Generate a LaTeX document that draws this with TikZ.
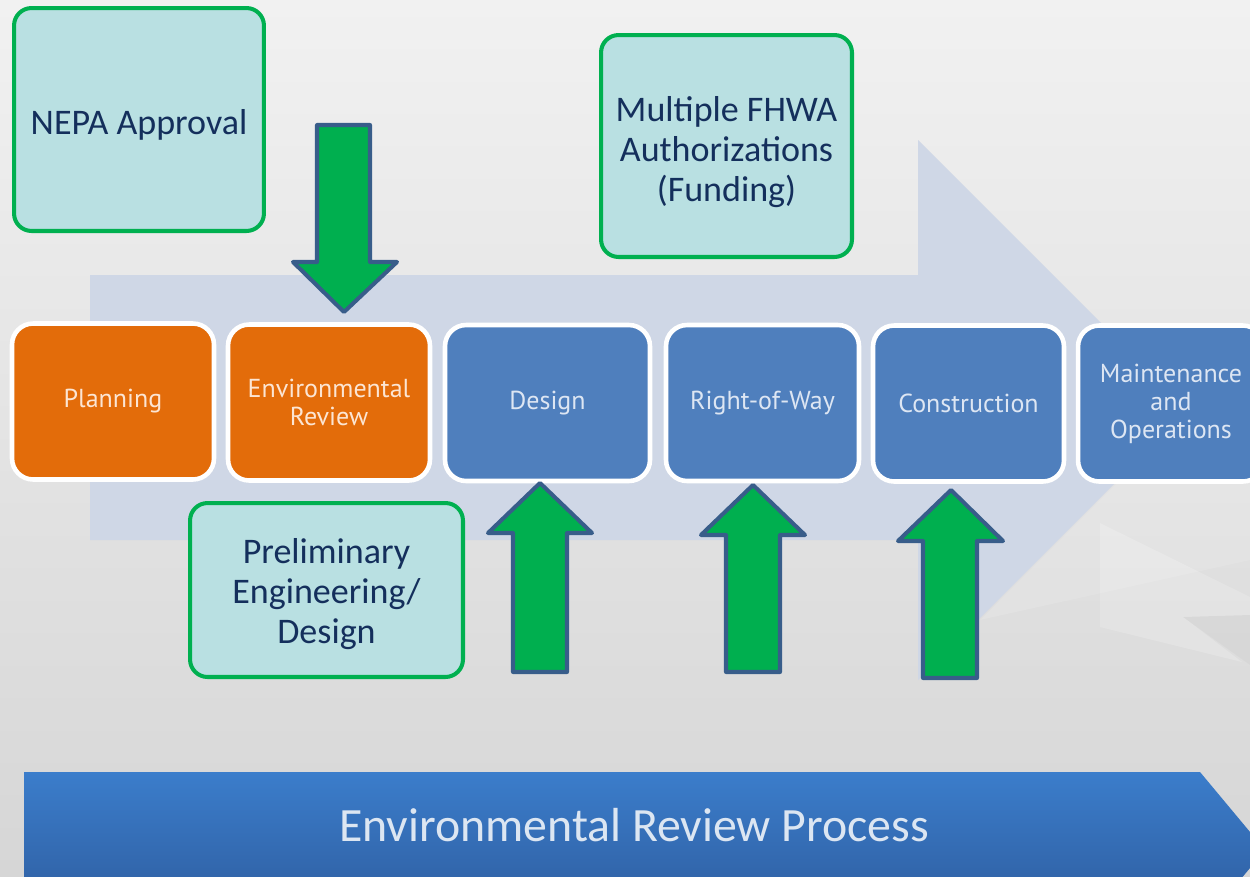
\documentclass[tikz,border=0pt]{standalone}
\usepackage{fontspec}
\setmainfont{Carlito}
\newfontfamily\stagefont{PT Sans}
\definecolor{bgtop}{HTML}{F1F1F1}
\definecolor{bgbot}{HTML}{D6D6D6}
\definecolor{bigarrow}{HTML}{CFD7E6}
\definecolor{stageorange}{HTML}{E36C0A}
\definecolor{stageblue}{HTML}{4F7FBD}
\definecolor{orangetext}{HTML}{FCE5D3}
\definecolor{bluetext}{HTML}{DDE6F3}
\definecolor{notefill}{HTML}{B9E0E2}
\definecolor{notegreen}{HTML}{00B050}
\definecolor{notetext}{HTML}{142F5C}
\definecolor{arrowgreen}{HTML}{00AF4F}
\definecolor{arrowedge}{HTML}{385D8A}
\definecolor{bannertop}{HTML}{3B7DCB}
\definecolor{bannerbot}{HTML}{2D5A9B}
\definecolor{bannertext}{HTML}{DCE6F2}
\tikzset{
  stagebox/.style={rounded corners=12pt, draw=white, line width=2.6pt,
    minimum height=3.12cm, align=center, inner sep=2pt,
    font=\stagefont\fontsize{14.8}{16}\selectfont},
  orangestage/.style={stagebox, fill=stageorange, text=orangetext},
  bluestage/.style={stagebox, fill=stageblue, text=bluetext},
  notebox/.style={rounded corners=10pt, draw=notegreen, fill=notefill,
    line width=2.3pt, inner sep=0pt},
  notetextstyle/.style={align=center, text=notetext, inner sep=0pt,
    font=\fontsize{20.5}{22.8}\selectfont},
  blockarrow/.style={fill=arrowgreen, draw=arrowedge, line width=2.3pt, line join=round},
}
\begin{document}
\begin{tikzpicture}[x=0.02cm, y=-0.02cm]
\useasboundingbox (0,0) rectangle (1250,876);
\clip (0,0) rectangle (1250,876);
% background
\shade[top color=bgtop, bottom color=bgbot] (0,0) rectangle (1250,876);
\fill[white, opacity=0.18] (1100,523) -- (1250,597) -- (1250,615) -- (1183,617) -- (1242,662) -- (1100,627) -- cycle;
\fill[white, opacity=0.12] (980,620) -- (1120,480) -- (1250,470) -- (1250,560) -- cycle;
\fill[black, opacity=0.025] (1183,617) -- (1250,615) -- (1250,665) -- cycle;
% big light process arrow
\fill[bigarrow] (90,275) -- (918,275) -- (918,140) -- (1188,410) -- (918,680) -- (918,540) -- (90,540) -- cycle;
% stage boxes
\node[orangestage, minimum width=4.04cm] (plan) at (113,401.5) {Planning};
\node[orangestage, minimum width=4.04cm] (env) at (329,402.5) {Environmental\\Review};
\node[bluestage, minimum width=4.1cm] (design) at (547.5,403) {Design};
\node[bluestage, minimum width=3.86cm] (row) at (762.5,403) {Right-of-Way};
\node[bluestage, minimum width=3.82cm] (cons) at (968.5,403.5) {Construction};
\node[bluestage, minimum width=3.72cm] (maint) at (1171,403.5) {Maintenance\\and\\Operations};
% note boxes
\node[notebox, minimum width=5cm, minimum height=4.46cm] (nepa) at (139,119.5) {};
\node[notetextstyle] (nepatext) at (139,125) {NEPA Approval};
\node[notebox, minimum width=5.02cm, minimum height=4.44cm] (fhwa) at (726.5,146) {};
\node[notetextstyle] (fhwatext) at (726.5,152) {Multiple FHWA\\Authorizations\\(Funding)};
\node[notebox, minimum width=5.46cm, minimum height=3.48cm] (prelim) at (326.5,590) {};
\node[notetextstyle] (prelimtext) at (326.5,594) {Preliminary\\Engineering/\\Design};
% green block arrows
\draw[blockarrow] (317,125) -- (370,125) -- (370,262) -- (397,262) -- (344,312) -- (293,262) -- (317,262) -- cycle;
\draw[blockarrow] (513,672) -- (567,672) -- (567,533) -- (592,533) -- (540,483) -- (488,533) -- (513,533) -- cycle;
\draw[blockarrow] (726,672) -- (780,672) -- (780,535) -- (805,535) -- (753,485) -- (701,535) -- (726,535) -- cycle;
\draw[blockarrow] (923,678) -- (977,678) -- (977,541) -- (1003,541) -- (951,490) -- (898,541) -- (923,541) -- cycle;
% bottom banner
\shade[top color=bannertop, bottom color=bannerbot] (24,772) -- (1200,772) -- (1265,850) -- (1200,928) -- (24,928) -- cycle;
\node[text=bannertext, font=\fontsize{27.2}{30}\selectfont, anchor=base] (banner) at (634,841) {Environmental Review Process};
\end{tikzpicture}
\end{document}
